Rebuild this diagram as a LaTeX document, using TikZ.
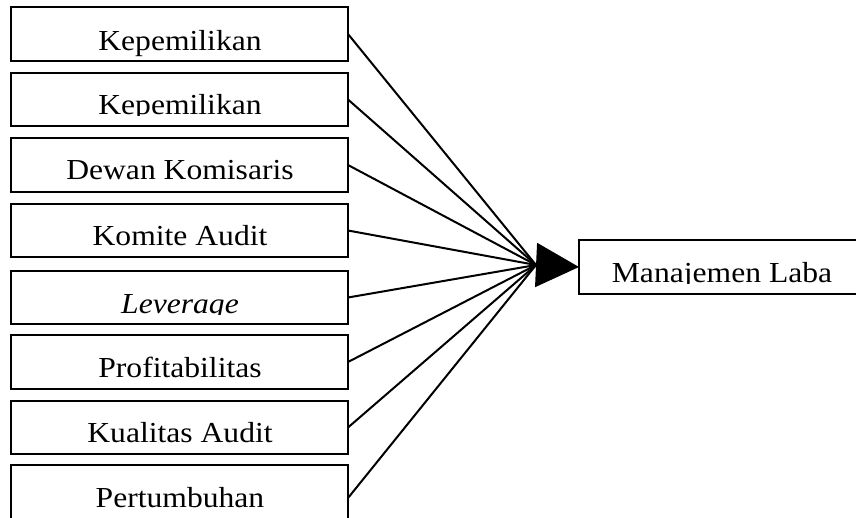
\documentclass[tikz,border=0pt]{standalone}
\usepackage{fontspec}
\setmainfont{Liberation Serif}[FakeStretch=1.09]
\usetikzlibrary{arrows.meta}
\tikzset{
  varbox/.style={draw, line width=2.4pt, inner sep=0pt, outer sep=0pt, minimum width=337pt, anchor=north west},
  lbl/.style={inner sep=0pt, outer sep=0pt, anchor=base, font=\fontsize{29}{30}\selectfont},
  conn/.style={line width=2pt},
}
% \mybox{name}{top}{bottom}{baseline}{clip}{text}
\newcommand\mybox[6]{%
  \node[varbox, minimum height=#3pt-#2pt] (#1) at (11,#2) {};
  \begin{scope}
    \clip (11,#2) rectangle (348,#5);
    \node[lbl] (#1t) at (180,#4) {#6};
  \end{scope}}
\begin{document}
\begin{tikzpicture}[x=1pt,y=-1pt]
\useasboundingbox (0,0) rectangle (856,517);
\mybox{b1}{7}{61}{50}{57}{Kepemilikan}
\mybox{b2}{73}{126}{114}{115}{Kepemilikan}
\mybox{b3}{138}{192}{179}{180}{Dewan Komisaris}
\mybox{b4}{204}{257}{245}{250}{Komite Audit}
\mybox{b5}{271}{324}{313}{314}{\textit{Leverage}}
\mybox{b6}{335}{389}{377}{382}{Profitabilitas}
\mybox{b7}{401}{454}{442}{447}{Kualitas Audit}
\mybox{b8}{465}{531}{507}{515}{Pertumbuhan}
% target
\node[draw, line width=2.4pt, inner sep=0pt, outer sep=0pt, minimum width=287pt, minimum height=54pt, anchor=north west] (t) at (579,240) {};
\begin{scope}
  \clip (579,240) rectangle (866,283);
  \node[lbl] (tt) at (722,282) {Manajemen Laba};
\end{scope}
\coordinate (hub) at (536,265);
\foreach \b in {b1,b2,b3,b4,b5,b6,b7,b8}
  \draw[conn] (\b.east) -- (hub);
\draw[conn, -{Triangle[length=43pt,width=44pt]}] (hub) -- (t.west);
\end{tikzpicture}
\end{document}
